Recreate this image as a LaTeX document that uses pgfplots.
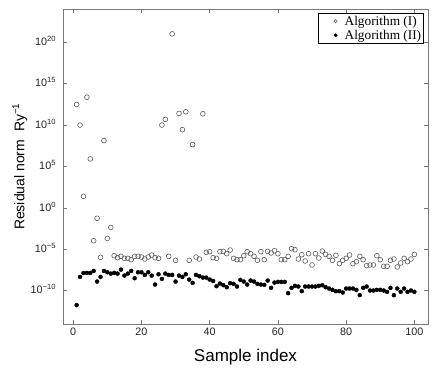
\documentclass[border=0pt]{standalone}
\usepackage{fontspec}
\setmainfont{Liberation Sans}
\newfontfamily\legendfont{Liberation Serif}
\usepackage{pgfplots}
\pgfplotsset{compat=1.18}
\definecolor{axgray}{RGB}{120,120,120}
\definecolor{mkgray}{RGB}{90,90,90}
\definecolor{txtgray}{RGB}{35,35,35}
\begin{document}
\begin{tikzpicture}
\begin{axis}[
  name=ax, at={(0,0)}, anchor=south west,
  scale only axis, width=365pt, height=315pt,
  xmin=-3, xmax=104,
  ymode=log, log basis y=10, ymin=1e-14, ymax=1e24,
  xtick={0,20,...,100},
  ytick={1e-10,1e-5,1,1e5,1e10,1e15,1e20},
  yticklabels={10\textsuperscript{−10},10\textsuperscript{−5},10\textsuperscript{0},10\textsuperscript{5},10\textsuperscript{10},10\textsuperscript{15},10\textsuperscript{20}},
  yminorticks=false,
  tick align=inside, major tick length=4pt,
  axis line style={axgray, line width=0.8pt},
  tick style={axgray, line width=0.8pt},
  tick label style={font=\fontsize{10.8}{12}\selectfont, text=txtgray},
  yticklabel style={xshift=-3.5pt, yshift=1.5pt},
  /pgf/number format/assume math mode=true,
  xlabel={Sample index},
  ylabel={Residual norm\ \ Ry\textsuperscript{−1}},
  xlabel style={font=\fontsize{17}{20}\selectfont, text=black, at={(axis description cs:0.5,-0.1175)}, anchor=base},
  ylabel style={font=\fontsize{14}{16}\selectfont, text=black, at={(axis description cs:-0.118,0.5)}, anchor=center},
  legend style={at={(0.989,0.987)}, anchor=north east, draw=black, line width=0.5pt,
    font=\legendfont\fontsize{13.3}{14}\selectfont, inner sep=1pt, row sep=0pt,
    nodes={inner sep=1.6pt}},
  legend cell align=left,
  legend image code/.code={\path (0cm,0cm) (0.8cm,0cm); \draw[#1, mark size=1.6pt] plot coordinates {(0.55cm,0cm)};},
]
\addplot[only marks, mark=o, mark size=2.4pt, mkgray, line width=0.6pt] coordinates {
(1,3.02e12) (2,1e10) (3,25.1) (4,2.29e13) (5,8.32e5) (6,1.10e-4) (7,5.75e-2) (8,1.10e-6) (9,1.32e8) (10,2.09e-4)
(11,4.37e-3) (12,1.74e-6) (13,1e-6) (14,1.45e-6) (15,8.32e-7) (16,8.32e-7) (17,5.75e-7) (18,1.45e-6) (19,1.45e-6) (20,1.20e-6)
(21,6.92e-7) (22,1.20e-6) (23,2.09e-6) (24,1e-6) (25,8.32e-7) (26,1e10) (27,4.79e10) (28,1.45e-6) (29,1e21) (30,4.79e-7)
(31,2.51e11) (32,2.75e9) (33,3.98e11) (34,4.79e-7) (35,4.37e7) (36,1.20e-6) (37,6.92e-7) (38,2.29e11) (39,4.37e-6) (40,5.25e-6)
(41,1e-6) (42,8.32e-7) (43,5.25e-6) (44,5.75e-6) (45,3.02e-6) (46,8.32e-6) (47,8.32e-7) (48,5.75e-7) (49,5.75e-7) (50,1.74e-6)
(51,5.25e-6) (52,3.02e-6) (53,1.45e-6) (54,4.79e-7) (55,5.25e-6) (56,5.75e-7) (57,5.75e-6) (58,3.63e-6) (59,6.92e-6) (60,3.02e-6)
(61,5.75e-7) (62,5.75e-7) (63,1.45e-6) (64,1.20e-5) (65,9.12e-6) (66,6.92e-7) (67,2.29e-6) (68,3.98e-7) (69,3.02e-6) (70,1.32e-7)
(71,3.02e-6) (72,9.12e-7) (73,6.31e-6) (74,2.51e-6) (75,1.45e-6) (76,4.79e-7) (77,1.91e-6) (78,1.91e-7) (79,4.79e-7) (80,8.32e-7)
(81,2.09e-6) (82,1.91e-7) (83,3.31e-7) (84,1.45e-6) (85,5.75e-7) (86,1.10e-7) (87,1.32e-7) (88,1.32e-7) (89,1.74e-6) (90,5.75e-7)
(91,9.12e-8) (92,9.12e-8) (93,4.79e-7) (94,6.92e-7) (95,7.59e-8) (96,2.29e-7) (97,8.32e-7) (98,3.31e-7) (99,6.92e-7) (100,2.51e-6)
};
\addlegendentry{Algorithm (I)}
\addplot[only marks, mark=*, mark size=2pt, black] coordinates {
(1,1.91e-12) (2,4.79e-9) (3,1.45e-8) (4,1.45e-8) (5,1.45e-8) (6,2.51e-8) (7,1.32e-9) (8,4.79e-9) (9,2.51e-8) (10,1.74e-8)
(11,1.20e-8) (12,1.45e-8) (13,1.20e-8) (14,3.63e-8) (15,6.92e-9) (16,1.20e-8) (17,2.51e-8) (18,3.31e-9) (19,1.74e-8) (20,1.74e-8)
(21,8.32e-9) (22,1.74e-8) (23,6.92e-9) (24,5.75e-10) (25,1e-8) (26,2.75e-9) (27,1.20e-8) (28,8.32e-9) (29,8.32e-9) (30,1.32e-9)
(31,6.92e-9) (32,4.79e-9) (33,1e-8) (34,2.29e-9) (35,9.12e-10) (36,8.32e-9) (37,5.75e-9) (38,3.98e-9) (39,3.98e-9) (40,2.29e-9)
(41,1.58e-9) (42,3.63e-10) (43,7.59e-10) (44,4.79e-10) (45,2.75e-10) (46,8.32e-10) (47,6.92e-10) (48,3.31e-10) (49,2.09e-9) (50,1.32e-9)
(51,5.75e-10) (52,1.74e-9) (53,1.32e-9) (54,6.92e-10) (55,5.75e-10) (56,5.25e-10) (57,1.74e-9) (58,2.29e-10) (59,1e-9) (60,1.20e-9)
(61,1.20e-9) (62,1.20e-9) (63,5.25e-11) (64,2.29e-10) (65,3.98e-10) (66,3.31e-10) (67,9.12e-11) (68,3.31e-10) (69,3.31e-10) (70,3.31e-10)
(71,3.31e-10) (72,3.98e-10) (73,4.79e-10) (74,2.75e-10) (75,1.91e-10) (76,1.32e-10) (77,9.12e-11) (78,9.12e-11) (79,6.31e-11) (80,1.91e-10)
(81,1.91e-10) (82,1.91e-10) (83,1.32e-10) (84,3.02e-11) (85,2.29e-10) (86,3.31e-10) (87,1.10e-10) (88,1.10e-10) (89,1.32e-10) (90,1.32e-10)
(91,1.10e-10) (92,7.59e-11) (93,2.29e-10) (94,3.02e-11) (95,1.91e-10) (96,7.59e-11) (97,1.91e-10) (98,7.59e-11) (99,1.10e-10) (100,7.59e-11)
};
\addlegendentry{Algorithm (II)}
\end{axis}
\pgfresetboundingbox
\path (-63pt,-48pt) rectangle (373pt,324pt);
\end{tikzpicture}
\end{document}
